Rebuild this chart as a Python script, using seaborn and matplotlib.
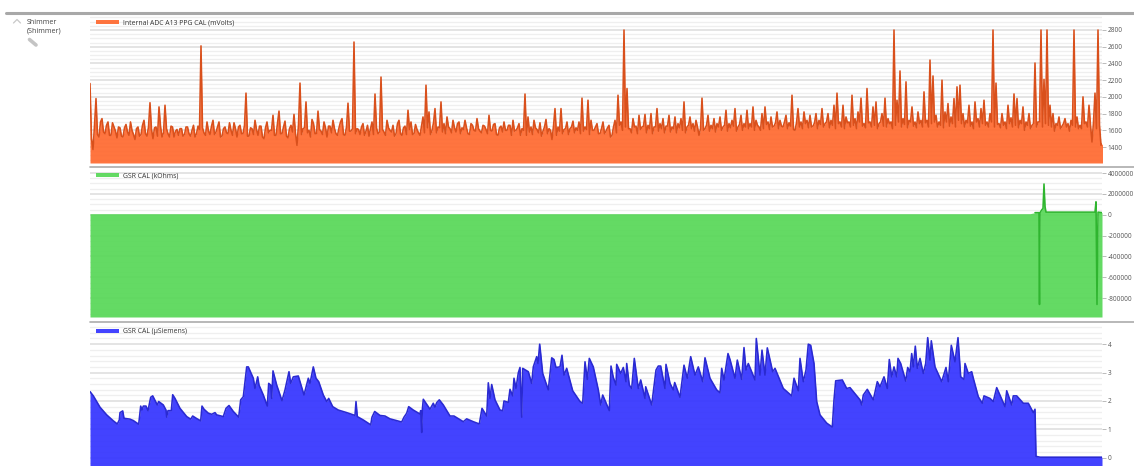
import numpy as np
import seaborn as sns
import matplotlib.pyplot as plt
from matplotlib.lines import Line2D

# one sample every 3 time units
ppg_mv = [
    2160, 1370, 1980, 1520, 1740, 1560, 1700, 1540, 1640, 1510,
    1630, 1520, 1670, 1540, 1600, 1490, 1640, 1550, 1720, 1530,
    1930, 1500, 1640, 1880, 1520, 1900, 1560, 1650, 1520, 1610,
    1620, 1530, 1640, 1560, 1600, 1520, 1650, 2610, 1570, 1700,
    1550, 1720, 1580, 1700, 1530, 1640, 1560, 1600, 1690, 1520,
    1660, 1560, 2045, 1530, 1620, 1720, 1540, 1650, 1500, 1700,
    1600, 1780, 1540, 1830, 1560, 1710, 1510, 1660, 1790, 1420,
    2165, 1620, 1940, 1600, 1730, 1560, 1830, 1590, 1700, 1520,
    1650, 1720, 1560, 1630, 1740, 1540, 1925, 1590, 2656, 1620,
    1550, 1680, 1590, 1530, 1700, 2034, 1560, 2237, 1580, 1720,
    1600, 1660, 1560, 1720, 1540, 1650, 1840, 1700, 1560, 1610,
    1540, 1760, 2140, 1820, 1600, 1860, 1640, 1940, 1680, 1760,
    1620, 1720, 1580, 1700, 1630, 1720, 1560, 1680, 1600, 1740,
    1590, 1660, 1610, 1780, 1590, 1680, 1540, 1650, 1700, 1600,
    1660, 1720, 1600, 1680, 1620, 2034, 1760, 1640, 1720, 1610,
    1690, 1590, 1730, 1620, 1490, 1860, 1640, 1860, 1610, 1700,
    1620, 1710, 1630, 1700, 1985, 1640, 1960, 1720, 1600, 1680,
    1560, 1700, 1590, 1660, 1540, 1720, 2020, 1700, 2800, 2100,
    1620, 1740, 1650, 1780, 1640, 1790, 1660, 1800, 1640, 1860,
    1680, 1740, 1650, 1780, 1640, 1760, 1680, 1740, 1940, 1640,
    1760, 1680, 1720, 1540, 1985, 1620, 1780, 1660, 1740, 1680,
    1760, 1640, 1840, 1680, 1720, 1860, 1640, 1780, 1680, 1840,
    1680, 1880, 1720, 1640, 1800, 1880, 1700, 1760, 1650, 1820,
    1720, 1640, 1780, 1690, 2020, 1600, 1860, 1700, 1820, 1720,
    1780, 1650, 1800, 1720, 1860, 1680, 1800, 1720, 1900, 2045,
    1700, 1900, 1760, 1700, 2020, 1740, 1820, 1985, 1680, 2100,
    1700, 1880, 1940, 1680, 1800, 1985, 1740, 1700, 2800, 1960,
    2310, 1740, 2180, 1720, 1880, 1700, 1820, 1720, 2060, 1720,
    2440, 2250, 1780, 1700, 2200, 1820, 1920, 1760, 1980, 2120,
    2140, 1800, 1720, 1900, 1700, 1940, 1740, 1860, 1960, 1700,
    1800, 2800, 2165, 1680, 1800, 1700, 1900, 1750, 2035, 1980,
    1720, 1880, 1700, 1800, 1660, 2405, 1700, 2800, 2210, 2800,
    1900, 1800, 1680, 1760, 1650, 1740, 1680, 1720, 2800, 1760,
    1660, 2000, 1700, 1900, 1460, 2045, 2800, 1420, 1410,
]

# the samples halfway between those above
ppg_mv_mid = [
    1500, 1660, 1550, 1700, 1580, 1660, 1540, 1690, 1590, 1640,
    1530, 1630, 1580, 1700, 1550, 1620, 1530, 1660, 1560, 1640,
    1610, 1630, 1530, 1650, 1570, 1620, 1520, 1640, 1590, 1540,
    1620, 1550, 1640, 1530, 1660, 1560, 1610, 1630, 1540, 1590,
    1650, 1550, 1640, 1520, 1620, 1570, 1690, 1540, 1620, 1640,
    1560, 1660, 1530, 1630, 1550, 1610, 1650, 1520, 1630, 1570,
    1600, 1540, 1690, 1560, 1640, 1530, 1620, 1580, 1560, 1670,
    1550, 1630, 1570, 1520, 1680, 1560, 1610, 1550, 1630, 1650,
    1570, 1620, 1540, 1700, 1550, 1640, 1590, 1620, 1560, 1610,
    1640, 1540, 1660, 1620, 1550, 1630, 1580, 1610, 1540, 1630,
    1580, 1530, 1680, 1560, 1630, 1550, 1610, 1550, 1670, 1570,
    1650, 1570, 1630, 1550, 1690, 1570, 1630, 1580, 1560, 1640,
    1570, 1630, 1680, 1560, 1610, 1630, 1550, 1660, 1590, 1620,
    1570, 1650, 1560, 1600, 1670, 1550, 1630, 1580, 1600, 1660,
    1540, 1590, 1630, 1540, 1600, 1540, 1580, 1550, 1630, 1570,
    1530, 1640, 1560, 1600, 1650, 1540, 1590, 1560, 1620, 1550,
    1640, 1570, 1600, 1560, 1590, 1610, 1550, 1600, 1640, 1560,
    1620, 1560, 1630, 1520, 1640, 1570, 1660, 1600, 1640, 1620,
    1570, 1640, 1560, 1610, 1650, 1570, 1620, 1560, 1640, 1590,
    1620, 1570, 1650, 1580, 1620, 1570, 1630, 1600, 1570, 1660,
    1620, 1590, 1640, 1620, 1600, 1660, 1590, 1620, 1580, 1640,
    1600, 1660, 1590, 1630, 1650, 1590, 1670, 1600, 1640, 1620,
    1640, 1600, 1660, 1600, 1620, 1670, 1610, 1640, 1690, 1620,
    1650, 1700, 1620, 1650, 1610, 1690, 1640, 1620, 1680, 1630,
    1640, 1690, 1620, 1670, 1640, 1700, 1630, 1660, 1620, 1680,
    1640, 1620, 1690, 1640, 1660, 1620, 1700, 1650, 1630, 1690,
    1640, 1660, 1620, 1700, 1650, 1640, 1680, 1620, 1660, 1700,
    1640, 1670, 1630, 1700, 1650, 1630, 1680, 1640, 1690, 1640,
    1680, 1700, 1640, 1660, 1630, 1700, 1650, 1680, 1640, 1720,
    1680, 1640, 1690, 1650, 1620, 1700, 1640, 1680, 1660, 1640,
    1700, 1640, 1670, 1630, 1660, 1620, 1680, 1640, 1660, 1630,
    1680, 1600, 1660, 1620, 1680, 1640, 1700, 1640, 1680, 1660,
    1640, 1590, 1660, 1620, 1680, 1640, 1590, 1660, 1640, 1620,
    1620, 1680, 1640, 1660, 1700, 1620, 1660, 1440,
]

gsr_k_time = [0, 940, 945, 949, 949.5, 950, 952, 953, 954, 955, 956,
              1005, 1006, 1007, 1008, 1012]
gsr_k_values = [100000, 100000, 200000, 200000, -8600000, 200000, 500000,
                600000, 2950000, 800000, 250000, 250000, 1240000, -8600000,
                250000, 200000]

gsr_us_time = [
    0, 3.3, 10, 16.7, 23.3, 27.3, 29.3, 30, 32.7, 34, 40, 43.3, 48.7, 50.7, 52,
    53.3, 56, 58, 60.7, 62.7, 67.3, 68.7, 73.3, 76, 76.7, 78, 81.3, 82.7, 85, 90,
    96.7, 100.7, 102.7, 106.7, 110.7, 112, 114, 118.3, 121.7, 125, 126.7, 133.3,
    136, 139, 143.3, 148.7, 150.7, 153.3, 156.7, 158.3, 163.3, 165, 167.7, 169,
    173.3, 177.3, 178.7, 180.7, 181.7, 183, 186.7, 192, 195, 199, 200.7, 203.3,
    208.3, 214, 218.3, 220, 223.3, 226, 228.7, 233.3, 236.7, 238.7, 242.7, 248.3,
    256.7, 265, 266, 267.3, 273.3, 280.7, 282, 284.7,
    290, 295, 300, 311.7, 314, 316.7, 318.7, 323.3, 330, 330.7, 331.7, 332.3,
    333.3, 340, 343.3, 345, 346.7, 349.3, 353.3, 360, 364, 373.3, 376.7, 383.3,
    389.3, 392, 396.7, 398.3, 400, 401.7, 405, 410, 412.7, 414, 418.3, 420, 422.7,
    424, 426, 428.3, 430, 431.7, 432.7, 438.3, 441.7, 443.3, 446.7, 448, 449.7,
    452.7, 458.3, 461.7, 464, 466, 470, 472, 474, 476.7, 482.7, 490, 492.7, 495,
    497.3, 499.3, 503.3, 508.3, 510.7, 512.7, 519.3, 521, 523.3, 526, 526.7, 530.7,
    533.3, 536, 536.7, 539.3, 541.7, 544.3, 548.3, 550.7, 555, 555.7, 561.7, 566,
    568.3, 570.7, 575, 576, 580, 583.3, 584.7,
    590, 594, 597.3, 600.7, 605, 608.3, 612.7, 615, 620, 626.7, 630, 631.7, 634,
    638, 640, 645, 647.3, 651.7, 654, 656, 658.3, 665, 666.3, 670, 672, 675, 677.3,
    682.7, 685, 693.3, 701.7, 704, 708.3, 710, 713.3, 716, 718.3, 720.7, 724, 726.7,
    730, 736.7, 742.3, 744, 745.7, 752.3, 756.7, 760, 770, 771.7, 773.3, 777.3,
    783.3, 787.3, 790, 794, 797.3, 799.3, 801.7, 804, 806.7, 808, 810.7, 815.7,
    817.7, 820, 821.7, 823.3, 825.3, 827.3, 830, 833.3, 835.7, 837.7, 840, 841.3,
    845, 851.7, 856, 858.3, 861.3, 865, 868, 870.7, 874, 875, 878.3, 881.7, 883.3,
    888.3, 892.3, 894, 900, 903.3, 906.7, 915, 916.7, 921.7, 923.3, 926.7, 933.3,
    938.3, 943.3, 945, 946, 950, 1012,
]
gsr_us_values = [
    2.33, 2.18, 1.78, 1.51, 1.30, 1.19, 1.33, 1.59, 1.65, 1.39, 1.36, 1.31, 1.18, 1.82, 1.68,
    1.82, 1.82, 1.66, 2.13, 2.18, 1.86, 1.98, 1.86, 1.68, 1.43, 1.66, 1.66, 2.22, 2.09, 1.74,
    1.45, 1.36, 1.47, 1.38, 1.30, 1.82, 1.71, 1.57, 1.53, 1.59, 1.51, 1.45,
    1.74, 1.84, 1.63, 1.43, 2.04, 2.15, 3.20, 3.20, 2.80, 2.44, 2.85, 2.56,
    2.21, 1.82, 2.62, 2.56, 2.09, 3.06, 2.56, 2.01, 2.39, 3.03, 2.62, 2.85,
    2.88, 2.21, 2.80, 2.62, 3.20, 2.80, 2.68, 2.21, 1.98, 2.09, 1.80, 1.68,
    1.59, 1.49, 1.98, 1.45, 1.33, 1.16, 1.43, 1.63,
    1.49, 1.47, 1.37, 1.26, 1.43, 1.57, 1.80, 1.68, 1.54, 1.66, 0.89, 1.68,
    2.06, 1.71, 1.92, 1.78, 1.94, 2.04, 1.86, 1.47, 1.47, 1.27, 1.37, 1.27,
    1.19, 1.74, 1.47, 2.64, 2.09, 2.58, 2.04, 1.68, 1.66, 2.00, 1.95, 2.41, 2.18,
    2.80, 2.44, 2.99, 3.18, 1.43, 3.15, 3.03, 2.62, 3.20, 3.56, 3.32, 4.00,
    2.97, 2.39, 3.52, 3.46, 3.18, 3.20, 3.61, 2.91, 3.15, 2.36, 1.98, 1.92, 3.38,
    2.76, 3.50, 3.20, 2.39, 1.86, 2.21, 1.66, 3.23, 2.83, 2.56, 3.29, 2.97,
    3.18, 2.68, 3.32, 2.56, 2.44, 3.50, 2.44, 2.74, 2.09, 2.50, 1.86, 3.09,
    3.23, 3.23, 2.44, 3.29, 2.62, 2.39, 2.65,
    2.13, 3.26, 2.80, 3.56, 2.91, 3.20, 2.68, 3.52, 2.80, 2.39, 2.29, 3.15, 2.74,
    3.67, 3.46, 2.80, 3.44, 2.76, 3.88, 3.09, 3.32, 2.74, 4.20, 2.91, 3.79, 2.91, 3.87,
    3.03, 3.15, 2.44, 2.18, 2.80, 2.36, 3.50, 2.68, 3.09, 4.00, 3.96, 3.32, 1.98,
    1.51, 1.22, 1.08, 2.04, 2.71, 2.74, 2.44, 2.47, 2.04, 1.86, 2.21, 2.41,
    2.04, 2.68, 2.50, 2.85, 2.44, 3.46, 2.85, 3.20, 2.85, 3.50, 3.32, 2.70,
    3.18, 3.03, 3.67, 3.20, 3.93, 3.15, 3.50, 2.97, 3.32, 4.23, 3.44, 4.12,
    3.20, 2.68, 3.18, 2.68, 3.96, 3.38, 4.23, 2.85, 2.76, 3.32, 2.97, 3.03, 2.80,
    2.15, 1.92, 2.18, 2.09, 1.98, 2.47, 1.80, 2.36, 1.86, 2.18, 2.18, 1.92,
    1.92, 1.59, 1.71, 0.05, 0.02, 0.02,
]

ppg_ticks = [1400, 1600, 1800, 2000, 2200, 2400, 2600, 2800]
gsr_k_ticks = [4000000, 2000000, 0, -2000000, -4000000, -6000000, -8000000]
# the screenshot cuts the last digit off the negative labels
gsr_k_tick_labels = ['4000000', '2000000', '0', '-200000', '-400000', '-600000', '-800000']
gsr_us_ticks = [0, 1, 2, 3, 4]

W, H = 1134, 466

sns.set_theme(style='white')
plt.rcParams['font.family'] = ['Open Sans', 'DejaVu Sans']

fig = plt.figure(figsize=(W / 100, H / 100), dpi=100)


def panel(top, bottom):
    ax = fig.add_axes([90 / W, 1 - bottom / H, 1012 / W, (bottom - top) / H])
    ax.set_xlim(0, 1012)
    ax.set_xticks([])
    ax.yaxis.tick_right()
    sns.despine(ax=ax, left=True, right=True, top=True, bottom=True)
    return ax


def draw(ax, t, y, fill, line, label, ticks, minor, ylim, tick_labels=None, line_from=0):
    t = np.asarray(t)
    y = np.asarray(y)
    ax.set_ylim(*ylim)
    ax.set_yticks(ticks)
    if tick_labels:
        ax.set_yticklabels(tick_labels)
    ax.set_yticks(minor, minor=True)
    ax.set_axisbelow(True)
    ax.grid(True, which='major', axis='y', color='#DDDDDD', lw=1.1)
    ax.grid(True, which='minor', axis='y', color='#EFEFEF', lw=0.9)
    ax.tick_params(axis='y', which='major', right=True, length=3, width=0.7,
                   color='#BBBBBB', labelsize=4.7, labelcolor='#555555', pad=1.2)
    ax.tick_params(axis='y', which='minor', right=False, length=0)
    ax.fill_between(t, y, ylim[0], color=fill, alpha=0.93, lw=0, label=label)
    keep = t >= line_from
    sns.lineplot(x=t[keep], y=y[keep], ax=ax, color=line, lw=1.15, errorbar=None, legend=False)
    leg = ax.legend(loc='upper left', bbox_to_anchor=(0.0015, 1.0), frameon=False,
                    fontsize=4.95, handlelength=3.4, handleheight=0.7,
                    handletextpad=0.6, borderaxespad=0.25, labelcolor='#333333')
    leg.set_zorder(5)


ppg_time = np.arange(len(ppg_mv)) * 3
ppg_time_all = np.concatenate([ppg_time, ppg_time[:-1] + 1.5])
ppg_all = np.concatenate([ppg_mv, ppg_mv_mid])
order = np.argsort(ppg_time_all)

ax1 = panel(15, 163)
draw(ax1, ppg_time_all[order], ppg_all[order], '#FF6A30', '#D9501C',
     'Internal ADC A13 PPG CAL (mVolts)',
     ppg_ticks, np.arange(1250, 3000, 50), (1209, 2979))

ax2 = panel(168, 317)
draw(ax2, gsr_k_time, gsr_k_values, '#58D858', '#2FB52F', 'GSR CAL (kOhms)',
     gsr_k_ticks, np.arange(-9500000, 4500000, 500000), (-9800000, 4480000),
     gsr_k_tick_labels, line_from=945)

ax3 = panel(324, 466)
draw(ax3, gsr_us_time, gsr_us_values, '#3535FF', '#2A2AD2', 'GSR CAL (µSiemens)',
     gsr_us_ticks, np.arange(-0.2, 4.8, 0.2), (-0.29, 4.71))

# separators between the panels
fig.add_artist(Line2D([6 / W, 1], [1 - 12.5 / H] * 2, color='#A8A8A8', lw=2.2))
fig.add_artist(Line2D([90 / W, 1], [1 - 167 / H] * 2, color='#ABABAB', lw=1.2))
fig.add_artist(Line2D([90 / W, 1], [1 - 321.5 / H] * 2, color='#ABABAB', lw=1.2))

# device name, collapse arrow and edit icon on the left
fig.text(27 / W, 1 - 22.5 / H, 'Shimmer', fontsize=5.1, color='#444444', va='center')
fig.text(27 / W, 1 - 31.5 / H, '(Shimmer)', fontsize=5.1, color='#444444', va='center')
fig.add_artist(Line2D([13.5 / W, 17 / W, 20.5 / W], [1 - 23 / H, 1 - 19.5 / H, 1 - 23 / H],
                      color='#C8C8C8', lw=0.9))
fig.add_artist(Line2D([29.5 / W, 36 / W], [1 - 39.5 / H, 1 - 45 / H],
                      color='#C4C4C4', lw=2.6, solid_capstyle='round'))

fig.savefig('out.png', dpi=100)
